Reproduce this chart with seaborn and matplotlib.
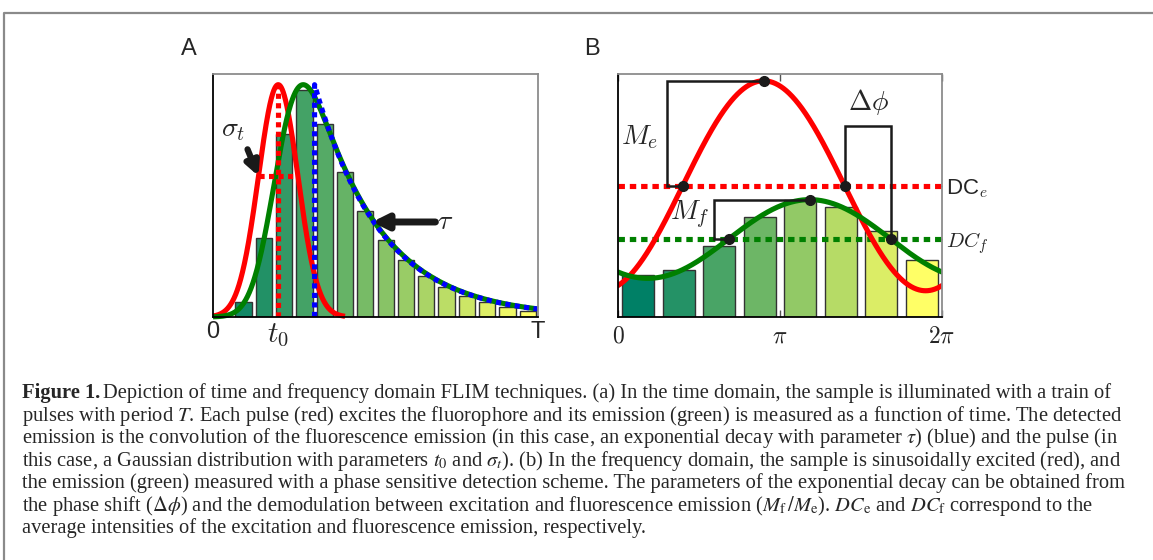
import numpy as np
import pandas as pd
import matplotlib
matplotlib.use("Agg")
import matplotlib.pyplot as plt
import seaborn as sns
from matplotlib.lines import Line2D

# ---------------- data ----------------
# Panel A : time domain histogram (photon counts per time bin)
time_bins = [1.5, 2.5, 3.5, 4.5, 5.5, 6.5, 7.5, 8.5, 9.5, 10.5, 11.5, 12.5, 13.5, 14.5, 15.5]
time_counts = [0.062, 0.325, 0.754, 0.936, 0.796, 0.595, 0.436, 0.318, 0.233,
               0.169, 0.122, 0.085, 0.060, 0.043, 0.026]
time_period = 16.0          # T
pulse_t0 = 3.21             # t0
pulse_sigma = 0.97          # sigma_t
decay_tau = 3.26            # tau
decay_start = 5.0
curve_peak = 0.956
red_curve_end = 6.5
time_ticklabels = ["0", r"$t_0$", "T"]

# Panel B : frequency domain histogram
phase_bins = [0.393, 1.178, 1.963, 2.749, 3.534, 4.320, 5.105, 5.890]
phase_counts = [0.174, 0.193, 0.292, 0.410, 0.480, 0.453, 0.353, 0.236]
exc_dc, exc_amp, exc_peak = 0.54, 0.432, 2.825
emi_dc, emi_amp, emi_peak = 0.321, 0.162, 3.717
phase_ticklabels = [r"$0$", r"$\pi$", r"$2\pi$"]
dc_labels = [r"DC$_e$", r"$DC_f$"]

caption_lines = [
    None,
    r"pulses with period $T$. Each pulse (red) excites the fluorophore and its emission (green) is measured as a function of time. The detected",
    r"emission is the convolution of the fluorescence emission (in this case, an exponential decay with parameter $\tau$) (blue) and the pulse (in",
    r"this case, a Gaussian distribution with parameters $t_0$ and $\sigma_t$). (b) In the frequency domain, the sample is sinusoidally excited (red), and",
    r"the emission (green) measured with a phase sensitive detection scheme. The parameters of the exponential decay can be obtained from",
    r"the phase shift ($\Delta\phi$) and the demodulation between excitation and fluorescence emission ($M_{\rm f}\,/M_{\rm e}$). $DC_{\rm e}$ and $DC_{\rm f}$ correspond to the",
    r"average intensities of the excitation and fluorescence emission, respectively.",
]
caption_first = "Depiction of time and frequency domain FLIM techniques. (a) In the time domain, the sample is illuminated with a train of"

# ---------------- style ----------------
sns.set_theme(style="white")
plt.rcParams["font.family"] = ["Liberation Sans", "DejaVu Sans"]
plt.rcParams["mathtext.fontset"] = "cm"

W, H = 1153, 560
fig = plt.figure(figsize=(W / 100, H / 100), dpi=100)
fig.patch.set_facecolor("white")

def fx(px):
    return px / W

def fy(py):
    return 1 - py / H

axA = fig.add_axes([fx(213), fy(317), fx(538) - fx(213), fy(74) - fy(317)])
axB = fig.add_axes([fx(618), fy(317), fx(942) - fx(618), fy(74) - fy(317)])

summer = plt.get_cmap("summer")

LW = 3.7
RED, GREEN, BLUE = "#ff0000", "#008000", "#0000ff"

# ---------------- Panel A ----------------
dfA = pd.DataFrame({"t": time_bins, "count": time_counts})
palA = {b: summer((i + 1) / len(time_bins)) for i, b in enumerate(time_bins)}
sns.barplot(data=dfA, x="t", y="count", hue="t", palette=palA, native_scale=True,
            legend=False, saturation=1, edgecolor="#333333", linewidth=1.0,
            errorbar=None, ax=axA, zorder=2)

t = np.linspace(-4, time_period, 4001)
dt = t[1] - t[0]
gauss = np.exp(-0.5 * ((t - pulse_t0) / pulse_sigma) ** 2)
kern = np.exp(-(t - t[0]) / decay_tau)
emg = np.convolve(gauss, kern)[: len(t)] * dt
emg = emg / emg.max() * curve_peak
m = t >= 0
mr = (t >= 0) & (t <= red_curve_end)
axA.plot(t[mr], (curve_peak * gauss)[mr], color=RED, lw=LW, zorder=4, clip_on=False,
         solid_capstyle="butt")
axA.plot(t[m], emg[m], color=GREEN, lw=LW, zorder=5, clip_on=False, solid_capstyle="butt")
td = np.linspace(decay_start, time_period, 400)
blue_x = np.concatenate([[decay_start], td])
blue_y = np.concatenate([[0], curve_peak * np.exp(-(td - decay_start) / decay_tau)])
axA.plot(blue_x, blue_y, color=BLUE, lw=LW, ls=(0, (1, 0.85)), zorder=6,
         clip_on=False, dash_capstyle="butt")
axA.plot([pulse_t0, pulse_t0], [0, curve_peak], color=RED, lw=LW, ls=(0, (1, 0.85)),
         zorder=6, dash_capstyle="butt")
hy = curve_peak * np.exp(-0.5)
axA.plot([pulse_t0 - pulse_sigma, pulse_t0 + pulse_sigma], [hy, hy], color=RED, lw=LW,
         ls=(0, (1, 0.85)), zorder=6, dash_capstyle="butt")

axA.annotate("", xy=(pulse_t0 - pulse_sigma, hy), xytext=(1.70, 0.69),
             arrowprops=dict(arrowstyle="-|>", lw=4.5, color="k", mutation_scale=20,
                             shrinkA=0, shrinkB=0), zorder=7)
axA.text(0.98, 0.77, r"$\sigma_t$", fontsize=20, ha="center", va="center")
tau_x = 7.83
axA.annotate("", xy=(tau_x, 0.391), xytext=(10.95, 0.391),
             arrowprops=dict(arrowstyle="-|>", lw=5, color="k", mutation_scale=22,
                             shrinkA=0, shrinkB=0), zorder=7)
axA.text(11.45, 0.393, r"$\tau$", fontsize=20, ha="center", va="center")

axA.set_xlim(0, time_period)
axA.set_ylim(0, 1)
axA.set_xticks([0, pulse_t0, time_period], time_ticklabels, fontsize=17)
axA.get_xticklabels()[1].set_fontsize(21)
axA.set_yticks([])
axA.tick_params(axis="x", length=0, pad=3)
axA.set_xlabel("")
axA.set_ylabel("")

# ---------------- Panel B ----------------
dfB = pd.DataFrame({"phase": phase_bins, "count": phase_counts})
palB = {b: summer(i / (len(phase_bins) - 1)) for i, b in enumerate(phase_bins)}
sns.barplot(data=dfB, x="phase", y="count", hue="phase", palette=palB, native_scale=True,
            legend=False, saturation=1, edgecolor="#333333", linewidth=1.0,
            errorbar=None, ax=axB, zorder=2)

ph = np.linspace(0, 2 * np.pi, 600)
exc = exc_dc + exc_amp * np.cos(ph - exc_peak)
emi = emi_dc + emi_amp * np.cos(ph - emi_peak)
axB.plot(ph, [exc_dc] * len(ph), color=RED, lw=LW, ls=(0, (1.25, 0.95)), zorder=3,
         dash_capstyle="butt")
axB.plot(ph, [emi_dc] * len(ph), color=GREEN, lw=LW, ls=(0, (1.25, 0.95)), zorder=3,
         dash_capstyle="butt")
axB.plot(ph, exc, color=RED, lw=LW, zorder=4)
axB.plot(ph, emi, color=GREEN, lw=LW, zorder=5)

e_up = exc_peak - np.pi / 2
e_dn = exc_peak + np.pi / 2
f_up = emi_peak - np.pi / 2
f_dn = emi_peak + np.pi / 2
top_e = exc_dc + exc_amp
top_f = emi_dc + emi_amp
bk = dict(color="k", lw=1.8, zorder=6, solid_joinstyle="miter")
axB.plot([e_up, 0.95, 0.95, exc_peak], [exc_dc, exc_dc, top_e, top_e], **bk)
axB.plot([f_up, 1.855, 1.855, emi_peak], [emi_dc, emi_dc, top_f, top_f], **bk)
axB.plot([e_dn, e_dn, f_dn, f_dn], [exc_dc, 0.787, 0.787, emi_dc], **bk)
axB.plot([exc_peak, e_up, e_dn, emi_peak, f_up, f_dn],
         [top_e, exc_dc, exc_dc, top_f, emi_dc, emi_dc],
         ls="none", marker="o", ms=7, color="k", zorder=7)

axB.text(0.43, 0.742, r"$M_e$", fontsize=20, ha="center", va="center")
axB.text(1.40, 0.42, r"$M_f$", fontsize=20, ha="center", va="center")
axB.text(4.85, 0.885, r"$\Delta\phi$", fontsize=20, ha="center", va="center")

axB.set_xlim(0, 2 * np.pi)
axB.set_ylim(0, 1)
axB.set_xticks([0, np.pi, 2 * np.pi], phase_ticklabels, fontsize=17)
axB.tick_params(axis="x", direction="in", length=5, width=1, color="#555555",
                top=True, bottom=True, pad=6)
axB.yaxis.tick_right()
axB.set_yticks([exc_dc, emi_dc], dc_labels, fontsize=16)
axB.get_yticklabels()[1].set_fontsize(15)
axB.tick_params(axis="y", direction="in", length=5, width=1, color="#555555",
                right=True, left=False, pad=3)
axB.set_xlabel("")
axB.set_ylabel("")

for ax in (axA, axB):
    ax.set_facecolor("white")
    for s in ("left", "bottom"):
        ax.spines[s].set_color("black")
        ax.spines[s].set_linewidth(1.3)
    for s in ("top", "right"):
        ax.spines[s].set_color("#8c8c8c")
        ax.spines[s].set_linewidth(1.3)
    for s in ax.spines.values():
        s.set_zorder(8)

fig.text(fx(189), fy(49), "A", fontsize=17, ha="center", va="center")
fig.text(fx(592), fy(49), "B", fontsize=17, ha="center", va="center")

# ---------------- frame ----------------
fig.add_artist(Line2D([fx(4), fx(4), 1.0], [0.0, fy(12.5), fy(12.5)],
                      transform=fig.transFigure, color="#8a8a8a", lw=1.6))

# ---------------- caption ----------------
cap_kw = dict(fontsize=14.8, family=["Liberation Serif", "DejaVu Serif"],
              math_fontfamily="stix", va="baseline", ha="left")
baselines = [398, 421, 443, 466, 488, 511, 533]
x0 = 22
tb = fig.text(fx(x0), fy(baselines[0]), "Figure 1.", fontweight="bold", **cap_kw)
fig.canvas.draw()
bb = tb.get_window_extent()
fig.text(bb.x1 / W + fx(3), fy(baselines[0]), caption_first, **cap_kw)
for i in range(1, 7):
    fig.text(fx(x0), fy(baselines[i]), caption_lines[i], **cap_kw)

fig.savefig("out.png", dpi=100, facecolor="white")
